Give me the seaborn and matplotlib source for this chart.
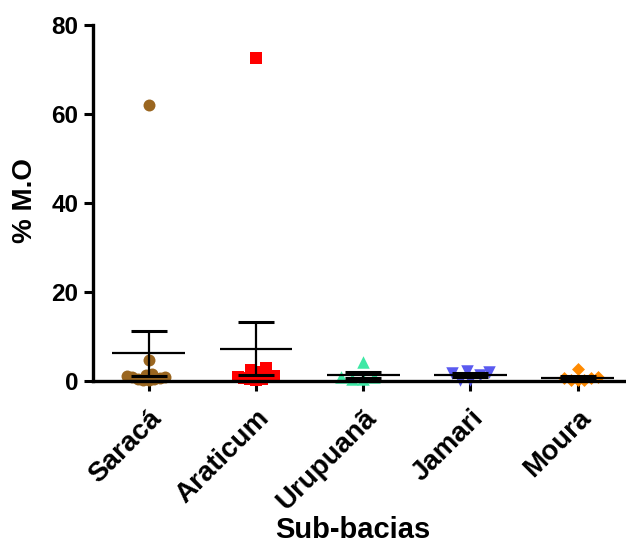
import types
import matplotlib
matplotlib.use("Agg")
import matplotlib.pyplot as plt
from matplotlib.collections import PathCollection
import numpy as np
import pandas as pd
import seaborn as sns

# % organic matter per sub-basin
categories = ["Saracá", "Araticum", "Urupuanã", "Jamari", "Moura"]
saraca = [62.0, 4.7, 1.2, 0.6, 1.5, 0.4, 0.9, 0.3, 1.4, 0.5, 0.8, 0.3]
araticum = [72.5, 3.0, 2.5, 0.8, 1.8, 0.5, 1.2, 0.4, 2.0, 0.6, 1.0, 0.3]
urupuana = [4.3, 0.5, 1.0, 0.4, 0.8]
jamari = [1.3, 2.3, 0.2, 1.8, 0.3, 2.1]
moura = [0.3, 0.8, 0.2, 0.7, 0.3, 0.6, 2.6]
y_ticks = [0, 20, 40, 60, 80]

series = [saraca, araticum, urupuana, jamari, moura]
colors = ["#9a6620", "#ff0000", "#3ee8a5", "#5a5af0", "#ff8a00"]
markers = ["o", "s", "^", "v", "D"]
sizes = [8.6, 8.4, 9.0, 9.0, 6.6]
# marker scale used while laying out each swarm
layout_scale = [0.45, 0.5, 0.85, 0.8, 0.7]

df = pd.DataFrame({
    "bacia": np.repeat(categories, [len(s) for s in series]),
    "mo": np.concatenate(series),
})

sns.set_style("ticks")
plt.rcParams["font.family"] = ["Liberation Sans", "DejaVu Sans"]
plt.rcParams["font.weight"] = "bold"
for key in ("text.color", "axes.labelcolor", "xtick.color", "ytick.color",
            "axes.edgecolor"):
    plt.rcParams[key] = "black"

fig = plt.figure(figsize=(6.26, 5.44), dpi=100)
ax = fig.add_axes([93 / 626, 1 - 381 / 544, (626 - 93) / 626, (381 - 25) / 544])

# swarm layout is computed with compact markers, so the final
# (larger) markers overlap slightly and the clusters stay narrow
swarms = []
for cat, color, marker, size, k in zip(categories, colors, markers, sizes, layout_scale):
    sub = df[df["bacia"] == cat]
    n_before = len(ax.collections)
    sns.swarmplot(data=sub, x="bacia", y="mo", order=categories, color=color,
                  marker=marker, size=size * k, linewidth=0, ax=ax,
                  clip_on=False, zorder=1, warn_thresh=1.0)
    for points in ax.collections[n_before:]:
        swarms.append((points, size))

# mean +/- SEM
stats = df.groupby("bacia", sort=False)["mo"].agg(["mean", "sem"]).reindex(categories)
pos = np.arange(len(categories))
ax.hlines(stats["mean"], pos - 0.34, pos + 0.34, color="black", lw=1.6, zorder=4)
ax.errorbar(pos, stats["mean"], yerr=stats["sem"], fmt="none", ecolor="black",
            elinewidth=1.6, capsize=13, capthick=2.2, zorder=4)

ax.set_ylim(0, 80)
ax.set_yticks(y_ticks)
ax.set_xlim(-0.52, 4.45)
ax.set_xticks(pos)
ax.set_xticklabels(categories, rotation=45, ha="right", rotation_mode="anchor",
                   fontsize=20, fontweight="bold")
ax.tick_params(axis="y", labelsize=17.5, width=2.2, length=6.5, pad=4)
ax.tick_params(axis="x", width=2.2, length=7.5, pad=10)
for lab in ax.get_yticklabels():
    lab.set_fontweight("bold")

sns.despine(ax=ax)
for side in ("left", "bottom"):
    ax.spines[side].set_linewidth(2.4)

ax.set_ylabel("% M.O", fontsize=20, fontweight="bold")
ax.set_xlabel("Sub-bacias", fontsize=21, fontweight="bold")
ax.yaxis.set_label_coords(-0.103, 0.508)
ax.xaxis.set_label_coords(0.488, -0.38)

fig.canvas.draw()
for points, size in swarms:
    # freeze the computed swarm offsets, then enlarge the markers
    points.draw = types.MethodType(PathCollection.draw, points)
    points.set_sizes([size ** 2])

fig.savefig("out.png", dpi=100)
